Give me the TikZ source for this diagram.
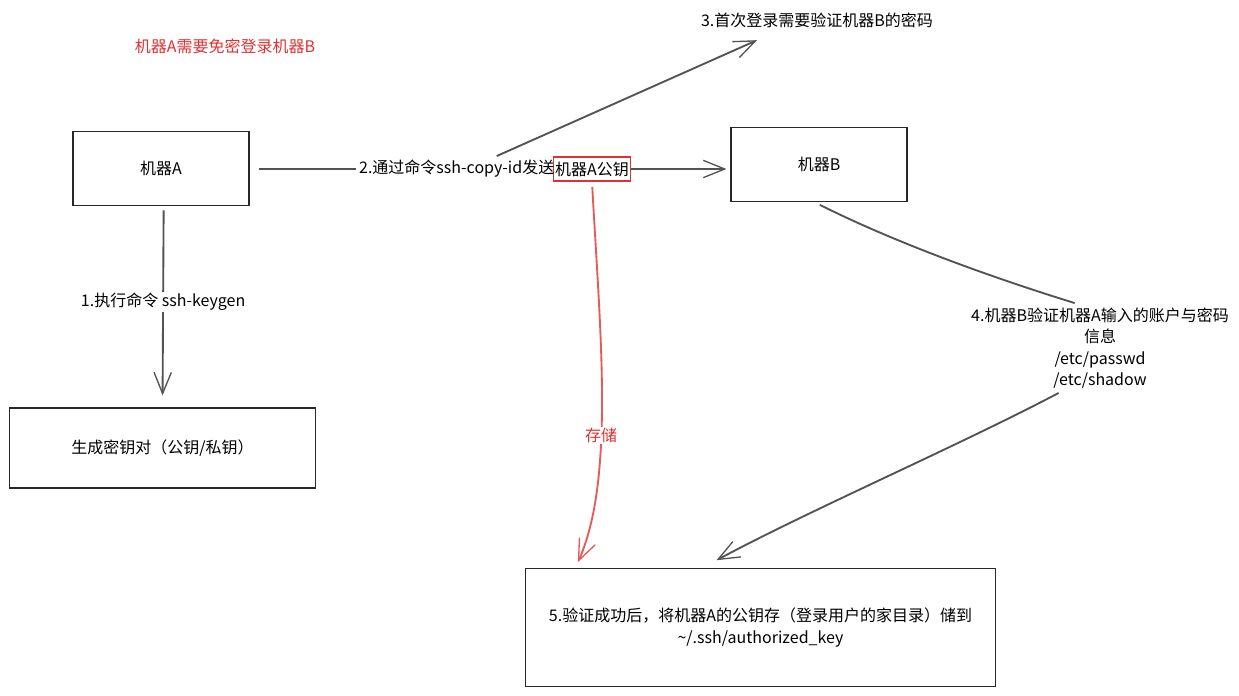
\documentclass[tikz,border=0pt]{standalone}
\usepackage{fontspec}
\setmainfont{Noto Sans CJK SC}
\usetikzlibrary{arrows.meta}
\definecolor{exred}{RGB}{224,49,49}
\definecolor{exink}{RGB}{40,40,40}
\begin{document}
\begin{tikzpicture}[x=0.75pt,y=-0.75pt,font=\fontsize{12}{16}\selectfont,
  box/.style={draw=exink,line width=0.9pt,inner sep=0pt,align=center},
  wire/.style={draw=exink!80,line width=1.4pt},
  flow/.style={wire,-{Straight Barb[length=16pt,width=13pt,line width=1pt]}},
  lbl/.style={fill=white,inner sep=1pt,align=center}]
\useasboundingbox (0,0) rectangle (1239,696);
\node[text=exred] (title) at (225,46) {机器A需要免密登录机器B};
\node[box,minimum width=132pt,minimum height=56pt] (A) at (161,168.5) {机器A};
\node[box,minimum width=132pt,minimum height=56pt] (B) at (819,164.5) {机器B};
\node[box,minimum width=229pt,minimum height=60pt] (keygen) at (162.5,448) {生成密钥对（公钥/私钥）};
\node[box,minimum width=353pt,minimum height=88pt] (final) at (760.5,627.5)
  {5.验证成功后，将机器A的公钥存（登录用户的家目录）储到\\\textasciitilde/.ssh/authorized\_key};
\node[draw=exred,line width=0.9pt,inner xsep=1pt,inner ysep=3.5pt] (key) at (592,169) {机器A公钥};
\node[anchor=east,inner sep=0pt] (msg2) at ([xshift=1pt]key.west) {2.通过命令ssh-copy-id发送};
\node (step3) at (817,20) {3.首次登录需要验证机器B的密码};
\node[align=center] (step4) at (1100,348) {4.机器B验证机器A输入的账户与密码\\信息\\/etc/passwd\\/etc/shadow};
\draw[flow,shorten <=3pt,shorten >=9pt] ([xshift=2pt]A.south) -- (keygen.north)
  node[lbl,pos=0.475] {1.执行命令 ssh-keygen};
\draw[wire,shorten <=7pt,shorten >=2pt] (A.east |- msg2.west) -- (msg2.west);
\draw[flow,shorten >=3pt] (key.east) -- (key.east -| B.west);
\draw[flow] ([xshift=30pt,yshift=3pt]msg2.north) -- ([xshift=-45pt,yshift=-6pt]step3.south);
\draw[wire,shorten <=4pt] ([xshift=-3pt]B.south) .. controls (900,245) and (1000,280) .. ([xshift=-19pt]step4.north);
\draw[flow] ([xshift=-31pt]step4.south) .. controls (960,445) and (810,510) .. ([xshift=-33pt,yshift=6pt]final.north);
\draw[flow,draw=exred!80,shorten <=4pt] (key.south) .. controls (600,330) and (615,480) .. ([xshift=-137pt,yshift=4.5pt]final.north)
  node[lbl,pos=0.6,text=exred] {存储};
\end{tikzpicture}
\end{document}
